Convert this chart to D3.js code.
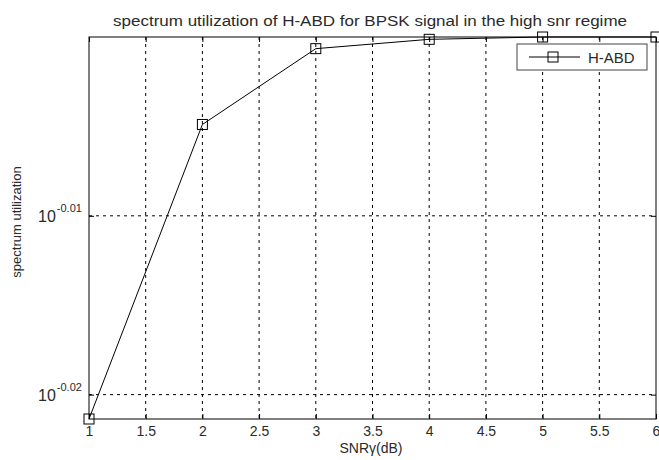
<!DOCTYPE html>
<meta charset="utf-8">
<style>body{margin:0;overflow:hidden;} svg{display:block;}</style>
<script src="https://d3js.org/d3.v7.min.js"></script>
<svg id="chart" width="659" height="460" style="background:#fff;"></svg>
<script>

// data
var snr = [1, 2, 3, 4, 5, 6];
var utilization = [0.952, 0.9888, 0.9985, 0.9997, 1.0, 1.0];
var xTicks = [1, 1.5, 2, 2.5, 3, 3.5, 4, 4.5, 5, 5.5, 6];
var yTickExps = [-0.02, -0.01];

var margin = {top: 37, right: 3, bottom: 41, left: 89};
var width = 659 - margin.left - margin.right,
    height = 460 - margin.top - margin.bottom;

var svg = d3.select("#chart");
var g = svg.append("g")
  .attr("transform", "translate(" + margin.left + "," + margin.top + ")");

var x = d3.scaleLinear().domain([1, 6]).range([0, width]);
var y = d3.scaleLog().domain([0.952, 1]).range([height, 0]);

var font = "Liberation Sans, Arial, sans-serif";
var textColor = "#2a2a2a";

// dotted grid
g.append("g").selectAll("line")
  .data(xTicks.slice(1, -1))
  .enter().append("line")
    .attr("x1", d => x(d)).attr("x2", d => x(d))
    .attr("y1", 0).attr("y2", height)
    .attr("stroke", "#000").attr("stroke-width", 1)
    .attr("stroke-dasharray", "3,4");
g.append("g").selectAll("line")
  .data(yTickExps)
  .enter().append("line")
    .attr("x1", 0).attr("x2", width)
    .attr("y1", d => y(Math.pow(10, d))).attr("y2", d => y(Math.pow(10, d)))
    .attr("stroke", "#000").attr("stroke-width", 1)
    .attr("stroke-dasharray", "3,4");

// axes with inside ticks (matlab style)
g.append("g")
  .attr("transform", "translate(0," + height + ")")
  .call(d3.axisBottom(x).tickValues(xTicks).tickSize(-5).tickSizeOuter(0).tickPadding(7).tickFormat(d3.format("")))
  .call(a => a.select(".domain").remove())
  .call(a => a.selectAll("text").attr("font-family", font).attr("font-size", 14).attr("fill", textColor));
g.append("g")
  .call(d3.axisTop(x).tickValues(xTicks).tickSize(-5).tickSizeOuter(0).tickFormat(""))
  .call(a => a.select(".domain").remove());

var yt = yTickExps.map(e => Math.pow(10, e));
g.append("g")
  .call(d3.axisLeft(y).tickValues(yt).tickSize(-5).tickSizeOuter(0).tickFormat(""))
  .call(a => a.select(".domain").remove());
g.append("g")
  .attr("transform", "translate(" + width + ",0)")
  .call(d3.axisRight(y).tickValues(yt).tickSize(-5).tickSizeOuter(0).tickFormat(""))
  .call(a => a.select(".domain").remove());

// y tick labels as 10^exp
var ylab = g.append("g").selectAll("text")
  .data(yTickExps)
  .enter().append("text")
    .attr("x", -51)
    .attr("y", d => y(Math.pow(10, d)) + 6)
    .attr("font-family", font)
    .attr("fill", textColor);
ylab.append("tspan").attr("font-size", 16).text("10");
ylab.append("tspan").attr("font-size", 11).attr("dy", -10).attr("dx", 1).text(d => d.toFixed(2));

// box
g.append("rect")
  .attr("width", width).attr("height", height)
  .attr("fill", "none").attr("stroke", "#000").attr("stroke-width", 1);

// line + markers
var line = d3.line().x((d, i) => x(snr[i])).y(d => y(d));
g.append("path")
  .datum(utilization)
  .attr("d", line)
  .attr("fill", "none").attr("stroke", "#000").attr("stroke-width", 1);
g.append("g").selectAll("rect")
  .data(utilization)
  .enter().append("rect")
    .attr("x", (d, i) => x(snr[i]) - 5)
    .attr("y", d => y(d) - 5)
    .attr("width", 10).attr("height", 10)
    .attr("fill", "none").attr("stroke", "#000").attr("stroke-width", 1);

// legend
var leg = svg.append("g").attr("transform", "translate(517,44)");
leg.append("rect").attr("width", 130).attr("height", 26)
  .attr("fill", "#fff").attr("stroke", "#444").attr("stroke-width", 1);
leg.append("line").attr("x1", 12).attr("x2", 63).attr("y1", 13).attr("y2", 13)
  .attr("stroke", "#000");
leg.append("rect").attr("x", 31).attr("y", 8).attr("width", 10).attr("height", 10)
  .attr("fill", "none").attr("stroke", "#000");
leg.append("text").attr("x", 71).attr("y", 19)
  .attr("font-family", font).attr("font-size", 15).attr("fill", textColor)
  .text("H-ABD");

// titles
svg.append("text")
  .attr("x", 113).attr("y", 26)
  .attr("textLength", 514).attr("lengthAdjust", "spacingAndGlyphs")
  .attr("font-family", font).attr("font-size", 14).attr("fill", textColor)
  .text("spectrum utilization of H-ABD for BPSK signal in the high snr regime");
svg.append("text")
  .attr("x", 371).attr("y", 453)
  .attr("text-anchor", "middle")
  .attr("font-family", font).attr("font-size", 14).attr("fill", textColor)
  .text("SNRγ(dB)");
svg.append("text")
  .attr("transform", "translate(21,222) rotate(-90)")
  .attr("text-anchor", "middle")
  .attr("font-family", font).attr("font-size", 13).attr("fill", textColor)
  .text("spectrum utilization");

</script>
